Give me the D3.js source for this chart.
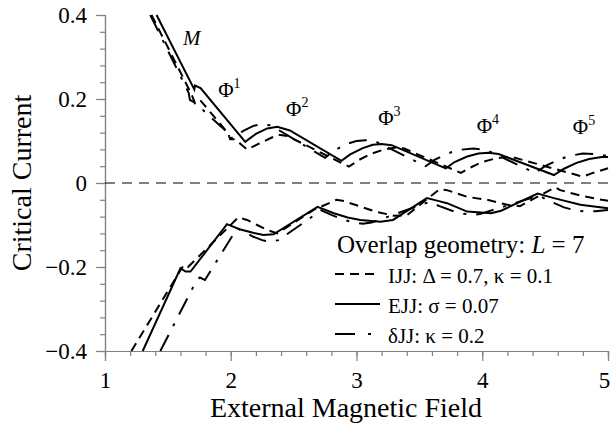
<!DOCTYPE html>
<html>
<head>
<meta charset="utf-8">
<script src="https://cdn.jsdelivr.net/npm/d3@7"></script>
<style>
  body { margin: 0; background: #fff; }
</style>
</head>
<body>
<svg id="chart" width="612" height="424"></svg>
<script>
// critical current vs external field, three junction models
const xMajor = [1, 2, 3, 4, 5];
const yMajor = [-0.4, -0.2, 0, 0.2, 0.4];

// EJJ (solid)
const ejjUpX = [1.41, 1.71, 1.715, 1.76, 2.115, 2.2, 2.29, 2.37, 2.47, 2.88, 2.95, 3.05, 3.13, 3.2, 3.28, 3.71, 3.78, 3.88, 3.97, 4.05, 4.13, 4.57, 4.65, 4.75, 4.85, 4.95, 5.0];
const ejjUpY = [0.4, 0.223, 0.232, 0.226, 0.098, 0.117, 0.13, 0.134, 0.125, 0.053, 0.068, 0.083, 0.091, 0.093, 0.09, 0.035, 0.05, 0.063, 0.07, 0.072, 0.069, 0.019, 0.034, 0.048, 0.057, 0.062, 0.062];
const ejjLoX = [1.3, 1.6, 1.64, 1.68, 1.97, 2.07, 2.17, 2.26, 2.34, 2.69, 2.82, 2.93, 3.03, 3.19, 3.29, 3.56, 3.64, 3.72, 3.88, 4.07, 4.15, 4.44, 4.57, 4.78, 5.0];
const ejjLoY = [-0.4, -0.203, -0.211, -0.211, -0.098, -0.11, -0.118, -0.124, -0.122, -0.057, -0.072, -0.082, -0.088, -0.092, -0.088, -0.036, -0.042, -0.048, -0.068, -0.072, -0.066, -0.025, -0.036, -0.052, -0.06];

// IJJ (dashed)
const ijjUpX = [1.37, 1.69, 1.715, 1.755, 1.98, 1.995, 2.035, 2.09, 2.13, 2.22, 2.31, 2.38, 2.45, 2.94, 3.02, 3.12, 3.22, 3.3, 3.38, 3.83, 3.9, 4.0, 4.1, 4.18, 4.26, 4.8, 4.88, 5.0];
const ijjUpY = [0.4, 0.21, 0.19, 0.198, 0.118, 0.104, 0.104, 0.09, 0.08, 0.093, 0.106, 0.115, 0.112, 0.039, 0.055, 0.07, 0.08, 0.084, 0.082, 0.024, 0.036, 0.05, 0.058, 0.062, 0.06, 0.015, 0.024, 0.035];
const ijjLoX = [1.21, 1.61, 1.63, 1.66, 2.06, 2.13, 2.21, 2.3, 2.37, 2.66, 2.84, 2.9, 3.0, 3.15, 3.3, 3.4, 3.66, 3.72, 3.88, 4.04, 4.2, 4.3, 4.58, 4.62, 4.78, 4.95, 5.0];
const ijjLoY = [-0.4, -0.203, -0.195, -0.2, -0.082, -0.088, -0.1, -0.113, -0.12, -0.064, -0.04, -0.043, -0.053, -0.068, -0.078, -0.077, -0.015, -0.017, -0.033, -0.04, -0.052, -0.055, -0.01, -0.017, -0.03, -0.04, -0.042];

// dJJ (dash-dot)
const djjUpX = [1.36, 1.665, 1.675, 1.72, 1.975, 1.985, 2.02, 2.1, 2.18, 2.25, 2.32, 2.75, 2.82, 2.92, 3.0, 3.07, 3.15, 3.55, 3.62, 3.72, 3.82, 3.93, 4.03, 4.42, 4.5, 4.6, 4.7, 4.8, 4.9, 5.0];
const djjUpY = [0.4, 0.215, 0.198, 0.19, 0.12, 0.106, 0.108, 0.124, 0.136, 0.14, 0.137, 0.06, 0.077, 0.093, 0.1, 0.102, 0.099, 0.04, 0.055, 0.07, 0.079, 0.082, 0.079, 0.024, 0.04, 0.055, 0.065, 0.07, 0.069, 0.064];
const djjLoX = [1.44, 1.73, 1.755, 1.795, 2.05, 2.1, 2.18, 2.25, 2.31, 2.38, 2.72, 2.8, 2.9, 3.0, 3.05, 3.12, 3.58, 3.66, 3.76, 3.85, 3.92, 3.98, 4.45, 4.55, 4.65, 4.75, 4.82, 4.9, 5.0];
const djjLoY = [-0.4, -0.231, -0.225, -0.231, -0.108, -0.115, -0.128, -0.136, -0.14, -0.136, -0.065, -0.076, -0.088, -0.095, -0.097, -0.094, -0.045, -0.055, -0.066, -0.073, -0.076, -0.074, -0.03, -0.045, -0.058, -0.066, -0.068, -0.067, -0.064];

const legendNames = ["IJJ: \u0394 = 0.7, \u03ba = 0.1", "EJJ: \u03c3 = 0.07", "\u03b4JJ: \u03ba = 0.2"];
const fluxLabels = ["1", "2", "3", "4", "5"];
const fluxX = [1.9, 2.44, 3.173, 3.956, 4.72];
const fluxY = [0.205, 0.159, 0.138, 0.118, 0.116];

const serif = "'Liberation Serif', 'Times New Roman', serif";

const margin = { top: 15, right: 4, bottom: 73, left: 105 };
const width = 612 - margin.left - margin.right,
  height = 424 - margin.top - margin.bottom;

const svg = d3.select("#chart");
const g = svg.append("g").attr("transform", "translate(" + margin.left + "," + margin.top + ")");

const x = d3.scaleLinear().domain([1, 5]).range([0, width]);
const y = d3.scaleLinear().domain([-0.4, 0.4]).range([height, 0]);

//axes: minor ticks first, then majors with labels
const axisColor = "#808080";
g.append("g")
  .attr("transform", "translate(0," + height + ")")
  .call(d3.axisBottom(x).tickValues(d3.range(1, 5.001, 0.2)).tickSize(5).tickFormat(""));
const xAxis = g.append("g")
  .attr("transform", "translate(0," + height + ")")
  .call(d3.axisBottom(x).tickValues(xMajor).tickSize(10).tickPadding(11).tickFormat(d3.format("d")));
g.append("g")
  .call(d3.axisLeft(y).tickValues(d3.range(-0.4, 0.401, 0.04)).tickSize(5).tickFormat(""));
g.append("g")
  .call(d3.axisLeft(y).tickValues(yMajor).tickSize(9).tickPadding(9)
    .tickFormat(function(d) { return Math.abs(d) < 1e-9 ? "0" : d3.format(".1f")(d); }));

g.selectAll(".domain, .tick line").attr("stroke", axisColor).attr("stroke-width", 1.2);
g.selectAll(".tick text")
  .attr("fill", "#000")
  .attr("font-size", 23)
  .style("font-family", serif);
// last x label sits right at the page edge
xAxis.selectAll(".tick text").filter(function(d) { return d == 5; }).attr("dx", -4);

//zero line
g.append("line")
  .attr("x1", 0).attr("x2", width)
  .attr("y1", y(0)).attr("y2", y(0))
  .attr("stroke", "#000").attr("stroke-width", 1)
  .attr("stroke-dasharray", "10,7");

const styles = {
  ijj: "9,6",
  ejj: null,
  djj: "18,10,3,10"
};

const line = d3.line()
  .x(function(d) { return x(d[0]); })
  .y(function(d) { return y(d[1]); });

function drawBranch(xs, ys, dash) {
  g.append("path")
    .datum(d3.zip(xs, ys))
    .attr("d", line)
    .attr("fill", "none")
    .attr("stroke", "#000")
    .attr("stroke-width", 2)
    .attr("stroke-linejoin", "miter")
    .attr("stroke-dasharray", dash);
}

drawBranch(ijjUpX, ijjUpY, styles.ijj);
drawBranch(ijjLoX, ijjLoY, styles.ijj);
drawBranch(ejjUpX, ejjUpY, styles.ejj);
drawBranch(ejjLoX, ejjLoY, styles.ejj);
drawBranch(djjUpX, djjUpY, styles.djj);
drawBranch(djjLoX, djjLoY, styles.djj);

function label(parent, px, py, size) {
  return parent.append("text")
    .attr("x", px).attr("y", py)
    .attr("font-size", size)
    .style("font-family", serif);
}

//mode labels
label(g, x(1.62), y(0.328), 21).attr("font-style", "italic").text("M");

fluxLabels.forEach(function(n, i) {
  const t = label(g, x(fluxX[i]), y(fluxY[i]), 21);
  t.append("tspan").text("\u03a6");
  t.append("tspan").attr("dy", -9).attr("font-size", 14).text(n);
});

//axis titles
label(svg, 346, 417, 28)
  .attr("text-anchor", "middle")
  .text("External Magnetic Field");

label(svg, 0, 0, 28)
  .attr("transform", "translate(31,183) rotate(-90)")
  .attr("text-anchor", "middle")
  .text("Critical Current");

//legend
const title = label(svg, 337, 253, 25);
title.append("tspan").text("Overlap geometry: ");
title.append("tspan").attr("font-style", "italic").text("L");
title.append("tspan").text(" = 7");

const legendDash = [styles.ijj, styles.ejj, "20,13,3,20"];
legendNames.forEach(function(name, i) {
  const ly = 274 + i * 30;
  svg.append("line")
    .attr("x1", 335).attr("x2", 380)
    .attr("y1", ly).attr("y2", ly)
    .attr("stroke", "#000").attr("stroke-width", 2)
    .attr("stroke-dasharray", legendDash[i]);
  label(svg, 388, ly + 8.5, 21).text(name);
});
</script>
</body>
</html>
